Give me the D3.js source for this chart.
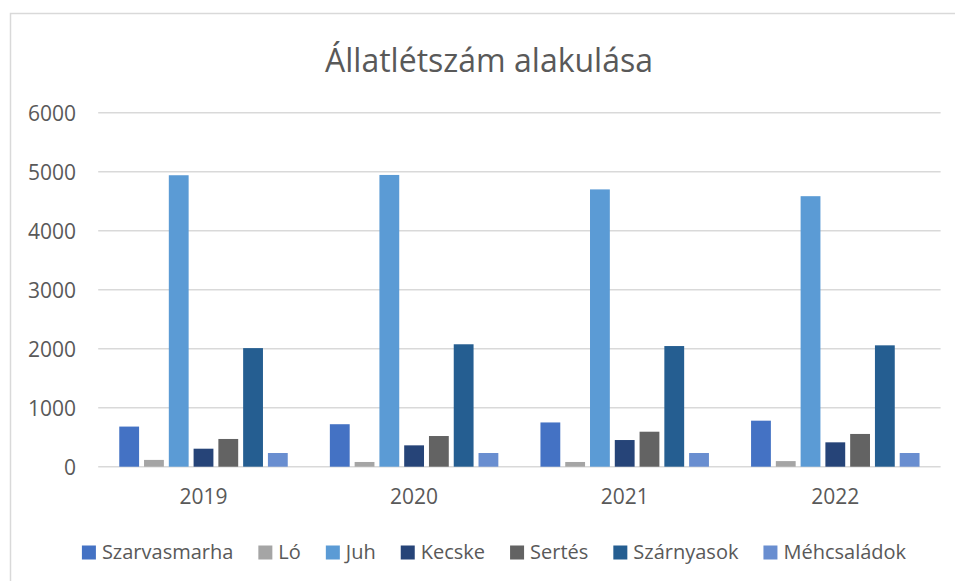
<!DOCTYPE html>
<html>
<head>
<meta charset="utf-8">
<script src="https://cdn.jsdelivr.net/npm/d3@7"></script>
<style>
  body { margin: 0; background: #fff; }
  svg { display: block; font-family: "Open Sans", "Noto Sans", sans-serif; }
</style>
</head>
<body>
<svg id="chart" width="955" height="581"></svg>
<script>
const years = ["2019", "2020", "2021", "2022"];
const seriesNames = ["Szarvasmarha", "Ló", "Juh", "Kecske", "Sertés", "Szárnyasok", "Méhcsaládok"];
const seriesColors = ["#4472C4", "#A5A5A5", "#5B9BD5", "#264478", "#636363", "#255E91", "#698ED0"];
const szarvasmarha = [680, 720, 750, 780];
const lo = [115, 80, 80, 95];
const juh = [4940, 4945, 4700, 4585];
const kecske = [305, 362, 452, 413];
const sertes = [470, 520, 593, 555];
const szarnyasok = [2010, 2075, 2045, 2057];
const mehcsaladok = [232, 232, 232, 232];
const yTicks = [0, 1000, 2000, 3000, 4000, 5000, 6000];

const seriesValues = [szarvasmarha, lo, juh, kecske, sertes, szarnyasok, mehcsaladok];
const textColor = "#595959";
const gridColor = "#d9d9d9";

const svg = d3.select("#chart");

// chart frame
svg.append("rect")
  .attr("x", 10.5).attr("y", 13.5)
  .attr("width", 980).attr("height", 600)
  .attr("fill", "#fff")
  .attr("stroke", gridColor)
  .attr("stroke-width", 1.5);

svg.append("text")
  .attr("x", 489).attr("y", 72)
  .attr("text-anchor", "middle")
  .attr("font-size", 32)
  .attr("fill", textColor)
  .text("Állatlétszám alakulása");

const x0 = d3.scaleBand()
  .domain(years)
  .range([98.2, 940.6])
  .paddingInner(0.2)
  .paddingOuter(0.1);

const x1 = d3.scaleBand()
  .domain(seriesNames)
  .range([0, x0.bandwidth()])
  .paddingInner(0.2);

const y = d3.scaleLinear()
  .domain([0, 6000])
  .range([466.7, 112.7]);

// gridlines
svg.append("g")
  .selectAll("line")
  .data(yTicks)
  .enter()
  .append("line")
  .attr("x1", 98.2).attr("x2", 940.6)
  .attr("y1", (d) => y(d)).attr("y2", (d) => y(d))
  .attr("stroke", gridColor)
  .attr("stroke-width", 1.5);

// y axis labels
const yAxis = svg.append("g")
  .attr("transform", "translate(76,0)")
  .call(d3.axisLeft(y).tickValues(yTicks).tickFormat(d3.format("d")).tickSize(0).tickPadding(0));
yAxis.select(".domain").remove();
yAxis.selectAll("text")
  .attr("font-size", 21)
  .attr("font-family", "Open Sans, Noto Sans, sans-serif")
  .attr("fill", textColor)
  .attr("dy", "0.35em");

// bars
const groups = svg.append("g")
  .selectAll("g")
  .data(years)
  .enter()
  .append("g")
  .attr("transform", (d) => `translate(${x0(d)},0)`);

groups.selectAll("rect")
  .data((d, i) => seriesNames.map((name, s) => ({ name, color: seriesColors[s], value: seriesValues[s][i] })))
  .enter()
  .append("rect")
  .attr("x", (d) => x1(d.name))
  .attr("width", x1.bandwidth())
  .attr("y", (d) => y(d.value))
  .attr("height", (d) => y(0) - y(d.value))
  .attr("fill", (d) => d.color);

// x axis
const xAxis = svg.append("g")
  .attr("transform", `translate(0,${y(0)})`)
  .call(d3.axisBottom(x0).tickSize(0).tickPadding(22));
xAxis.select(".domain").remove();
xAxis.selectAll("text")
  .attr("font-size", 21)
  .attr("font-family", "Open Sans, Noto Sans, sans-serif")
  .attr("fill", textColor);

// legend
const legend = svg.append("g");
const items = legend.selectAll("g")
  .data(seriesNames)
  .enter()
  .append("g");
items.append("rect")
  .attr("width", 14).attr("height", 14)
  .attr("y", 545.5)
  .attr("fill", (d, i) => seriesColors[i]);
items.append("text")
  .attr("x", 20).attr("y", 559)
  .attr("font-size", 20)
  .attr("fill", textColor)
  .text((d) => d);

let pos = 0;
items.each(function () {
  const w = d3.select(this).select("text").node().getComputedTextLength();
  d3.select(this).attr("data-x", pos);
  pos += 20 + w + 25;
});
const total = pos - 25;
const start = 494 - total / 2;
items.attr("transform", function () {
  return `translate(${start + +d3.select(this).attr("data-x")},0)`;
});
</script>
</body>
</html>
